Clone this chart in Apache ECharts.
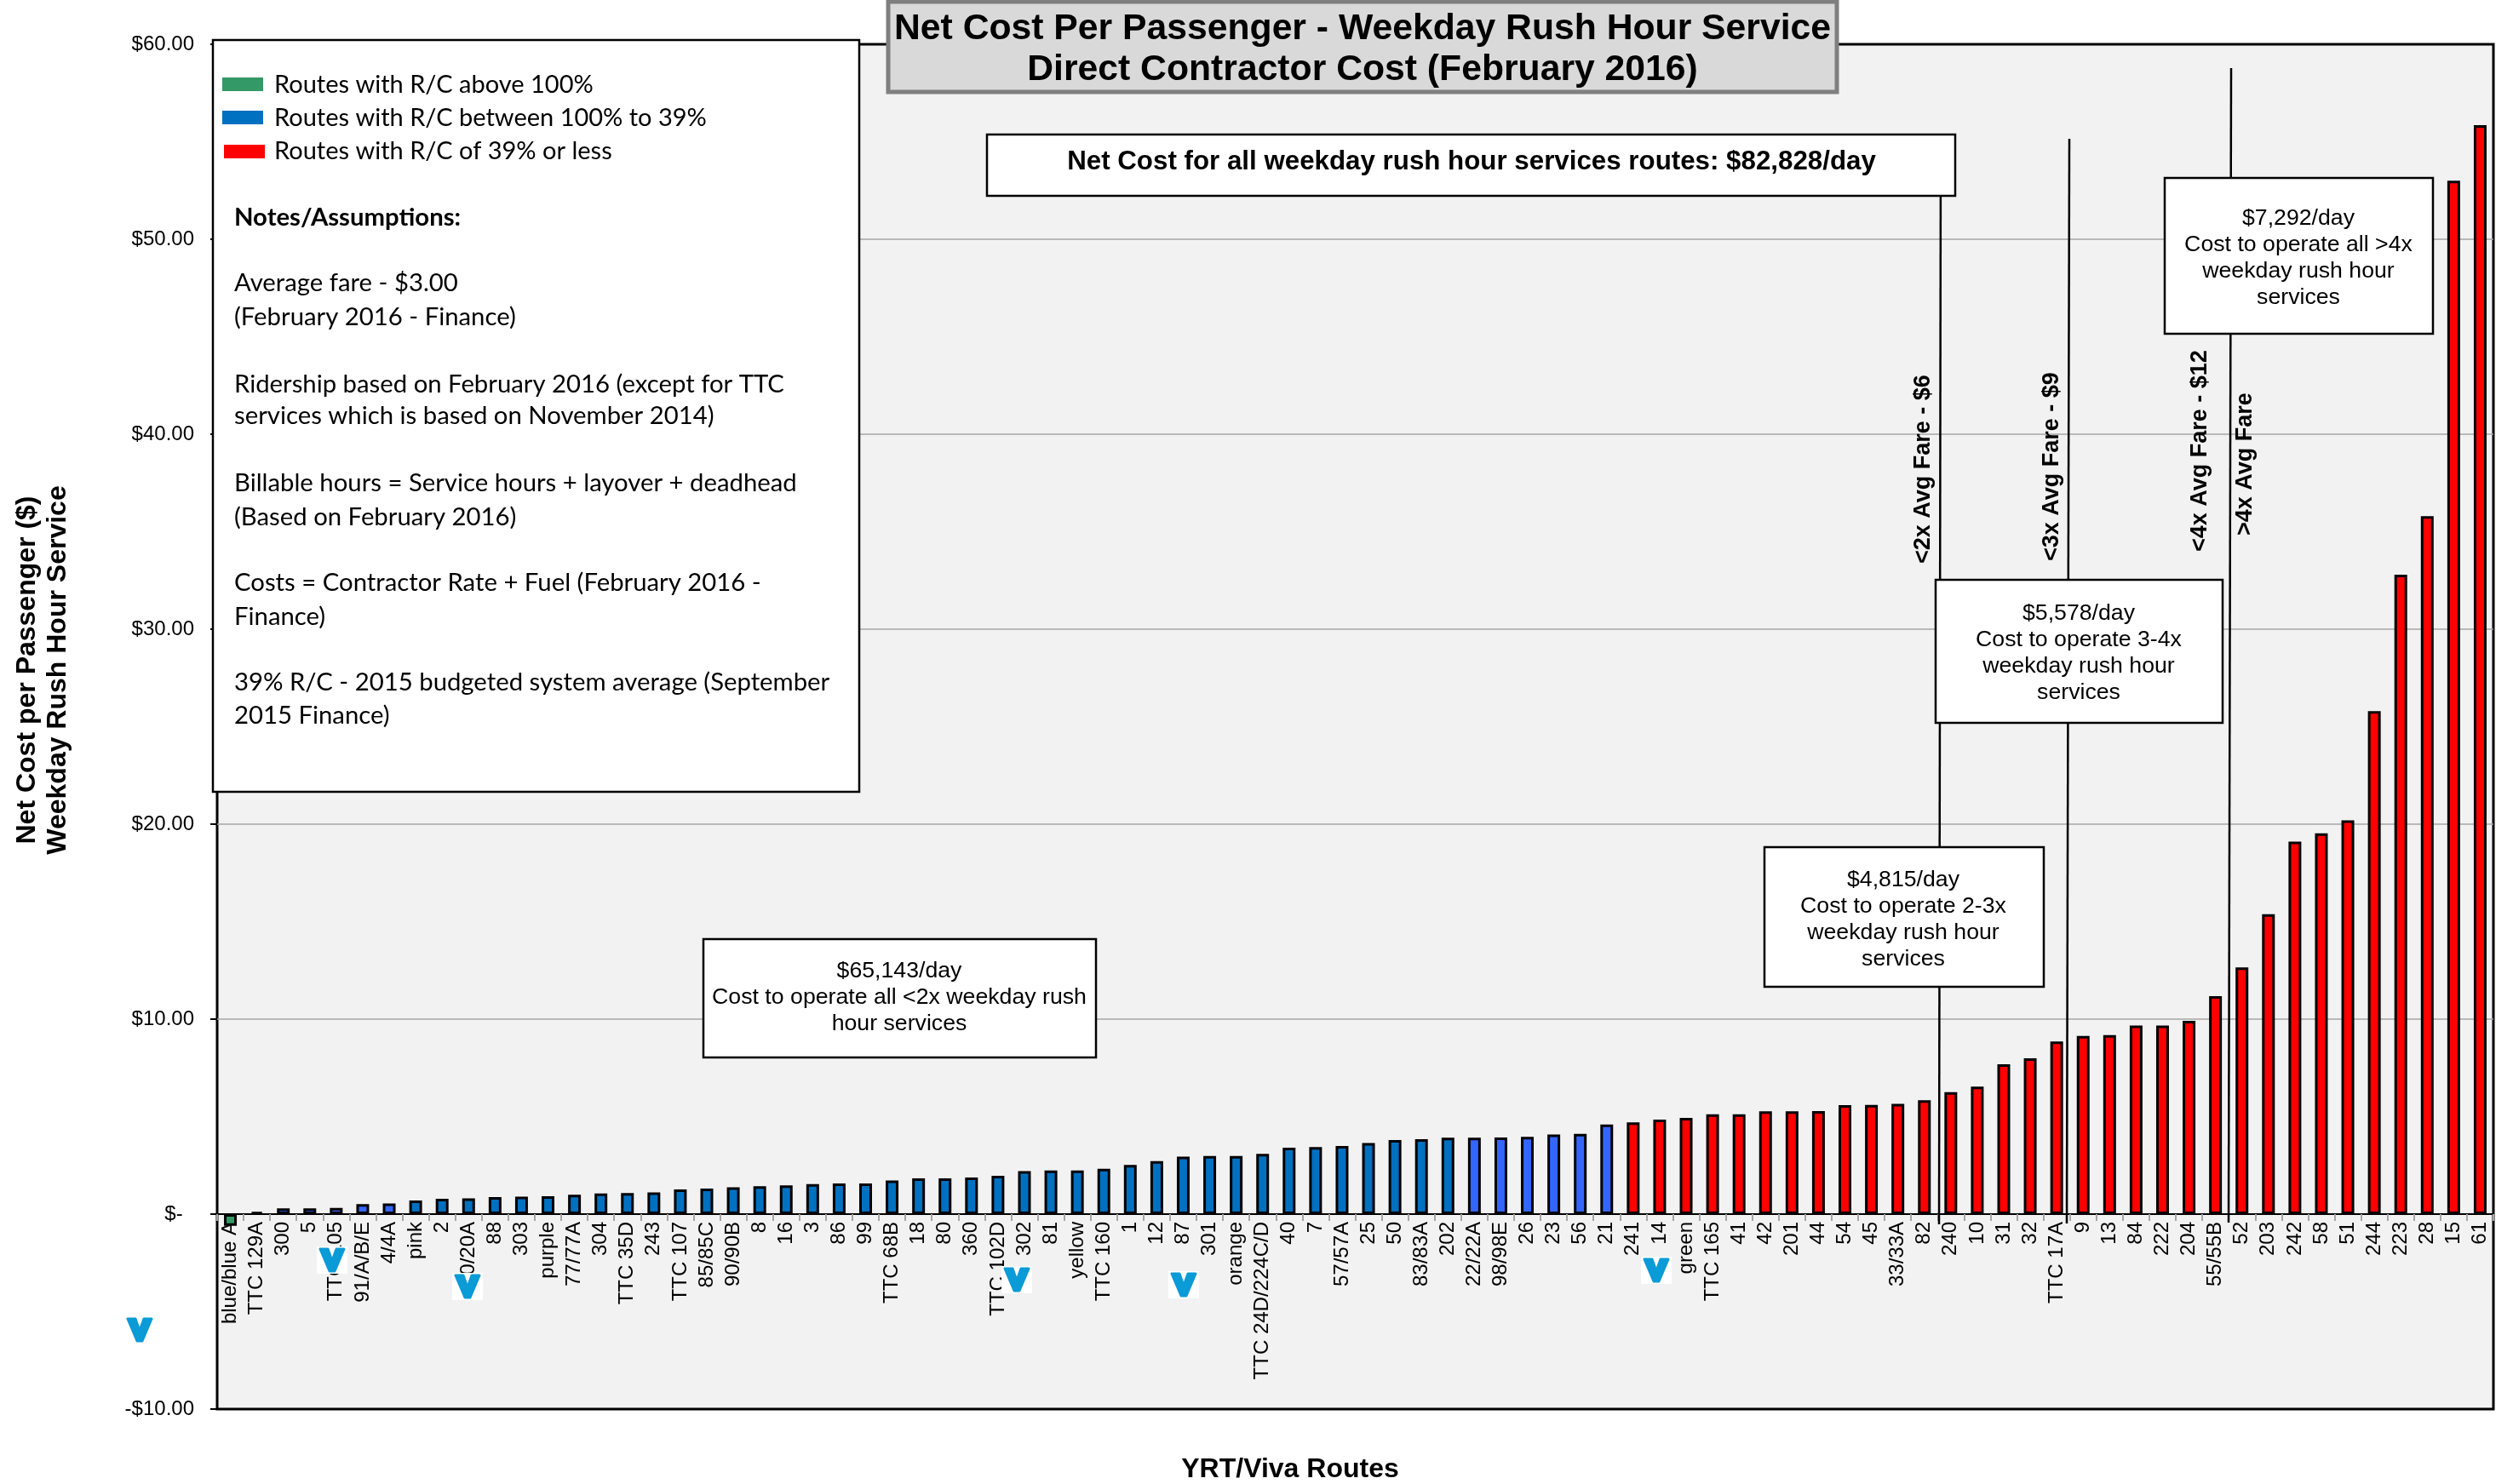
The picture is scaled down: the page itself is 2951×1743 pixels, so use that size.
<!DOCTYPE html>
<html>
<head>
<meta charset="utf-8">
<style>html,body{margin:0;padding:0;background:#fff}#c{width:2951px;height:1743px}</style>
<script src="https://cdn.jsdelivr.net/npm/echarts@6/dist/echarts.min.js"></script>
</head>
<body>
<div id="c"></div>
<script>
const routes = ["blue/blue A","TTC 129A","300","5","TTC 105","91/A/B/E","4/4A","pink","2","20/20A","88","303","purple","77/77A","304","TTC 35D","243","TTC 107","85/85C","90/90B","8","16","3","86","99","TTC 68B","18","80","360","TTC 102D","302","81","yellow","TTC 160","1","12","87","301","orange","TTC 24D/224C/D","40","7","57/57A","25","50","83/83A","202","22/22A","98/98E","26","23","56","21","241","14","green","TTC 165","41","42","201","44","54","45","33/33A","82","240","10","31","32","TTC 17A","9","13","84","222","204","55/55B","52","203","242","58","51","244","223","28","15","61"];
const netCost = [-0.6,0.12,0.29,0.29,0.32,0.51,0.55,0.70,0.79,0.81,0.87,0.89,0.92,0.99,1.06,1.08,1.11,1.27,1.31,1.38,1.43,1.47,1.54,1.57,1.57,1.73,1.83,1.83,1.88,1.97,2.21,2.24,2.24,2.33,2.52,2.72,2.95,2.98,2.98,3.09,3.41,3.44,3.49,3.65,3.80,3.84,3.92,3.92,3.93,3.96,4.08,4.12,4.60,4.70,4.85,4.93,5.12,5.12,5.27,5.27,5.28,5.59,5.60,5.65,5.84,6.26,6.54,7.69,7.99,8.85,9.14,9.18,9.67,9.67,9.91,11.18,12.65,15.38,19.1,19.53,20.2,25.8,32.8,35.8,53.0,55.85];
const tier = ["g","b","l","l","l","l","l","b","b","b","b","b","b","b","b","b","b","b","b","b","b","b","b","b","b","b","b","b","b","b","b","b","b","b","b","b","b","b","b","b","b","b","b","b","b","b","b","l","l","l","l","l","l","r","r","r","r","r","r","r","r","r","r","r","r","r","r","r","r","r","r","r","r","r","r","r","r","r","r","r","r","r","r","r","r","r"];
const tierColors = {g:"#339966",b:"#0070c0",l:"#3366ff",r:"#ff0000"};
const yTicks = {min:-10,max:60,step:10};
const titleLines = ["Net Cost Per Passenger - Weekday Rush Hour Service","Direct Contractor Cost (February 2016)"];
const totalNote = "Net Cost for all weekday rush hour services routes: $82,828/day";
const legendItems = ["Routes with R/C above 100%","Routes with R/C between 100% to 39%","Routes with R/C of 39% or less"];
const notesHead = "Notes/Assumptions:";
const notes = ["Average fare - $3.00","(February 2016 - Finance)","Ridership based on February 2016 (except for TTC","services which is based on November 2014)","Billable hours = Service hours + layover + deadhead","(Based on February 2016)","Costs = Contractor Rate + Fuel (February 2016 -","Finance)","39% R/C - 2015 budgeted system average (September","2015 Finance)"];
const callouts = [
 ["$65,143/day","Cost to operate all <2x weekday rush","hour services"],
 ["$4,815/day","Cost to operate 2-3x","weekday rush hour","services"],
 ["$5,578/day","Cost to operate 3-4x","weekday rush hour","services"],
 ["$7,292/day","Cost to operate all >4x","weekday rush hour","services"]
];
const fareLabels = ["<2x Avg Fare - $6","<3x Avg Fare - $9","<4x Avg Fare - $12",">4x Avg Fare"];

const SANS = '"Liberation Sans",Arial,sans-serif';
const LEG = 'Lato,"Open Sans",sans-serif';
const g = [];
function box(x0,y0,x1,y1,fill,stroke,lw,z){
  g.push({type:'rect',z:z||10,shape:{x:x0,y:y0,width:x1-x0,height:y1-y0},style:{fill:fill,stroke:stroke,lineWidth:lw}});
}
function txt(x,y,text,font,align,rot,z){
  g.push({type:'text',z:z||11,x:x,y:y,rotation:rot||0,style:{x:0,y:0,text:text,font:font,fill:'#000',align:align||'center',verticalAlign:'middle'}});
}
function line(x0,y0,x1,y1,lw,z){
  g.push({type:'line',z:z||5,shape:{x1:x0,y1:y0,x2:x1,y2:y1},style:{stroke:'#000',lineWidth:lw}});
}
line(2279,158,2277,1438,2.5);
line(2430,163,2427,1437,2.5);
line(2620,80,2617,1436,2.5);
box(1043,2,2157,108,'#d9d9d9','#7f7f7f',5);
titleLines.forEach((t,i)=>txt(1600,[34,82][i],t,'bold 42.7px '+SANS));
box(1159,158,2296,230,'#fff','#000',2.5);
txt(1728,190,totalNote,'bold 31.3px '+SANS);
box(250,47,1009,930,'#fff','#000',2.5);
[['g',261,98],['b',261,137],['r',263,177]].forEach((s,i)=>{
  box(s[1],s[2]-8+1,s[1]+48,s[2]+9,tierColors[s[0]],'none',0,11);
  txt(322,[100,139,178][i],legendItems[i],'29px '+LEG,'left');
});
txt(275,256,notesHead,'bold 29.3px '+LEG,'left');
[333,373,452,489,568,608,685,725,802,841].forEach((y,i)=>txt(275,y,notes[i],'29.3px '+LEG,'left'));
const cb=[[826,1103,1287,1242,1056,1141],[2072,995,2400,1159,2235,1034],[2273,681,2610,849,2441,721],[2542,209,2857,392,2699,257]];
callouts.forEach((c,i)=>{
  const b=cb[i];
  box(b[0],b[1],b[2],b[3],'#fff','#000',2.5);
  c.forEach((t,j)=>txt(b[4],b[5]+j*31,t,'26.7px '+SANS));
});
[[2259,662],[2410,659],[2584,648],[2637,629]].forEach((p,i)=>{
  txt(p[0],p[1],fareLabels[i],'bold 27px '+SANS,'left',Math.PI/2,12);
});
txt(1515,1726,'YRT/Viva Routes','bold 32px '+SANS);
txt(32,787,'Net Cost per Passenger ($)','bold 32px '+SANS,'center',Math.PI/2);
txt(68,787,'Weekday Rush Hour Service','bold 32px '+SANS,'center',Math.PI/2);
[[164,1562],[390,1480],[549,1511],[1194,1503],[1390,1509],[1945,1492]].forEach(p=>{
  g.push({type:'rect',z:20,shape:{x:p[0]-18,y:p[1]-16,width:36,height:32},style:{fill:'#fff'}});
  g.push({type:'polygon',z:21,shape:{points:[[p[0]-14,p[1]-13],[p[0]-5,p[1]-13],[p[0],p[1]+1],[p[0]+5,p[1]-13],[p[0]+14,p[1]-13],[p[0]+3,p[1]+13],[p[0]-3,p[1]+13]]},style:{fill:'#0b9bd7',stroke:'#0b9bd7',lineWidth:3,lineJoin:'round'}});
});

const gridH = 1603;
const chart = echarts.init(document.getElementById('c'),null,{renderer:'canvas'});
chart.setOption({
  animation:false,
  backgroundColor:'#fff',
  grid:{left:255,top:52,width:2673,height:gridH,outerBoundsMode:'none',show:true,backgroundColor:'#f2f2f2',borderColor:'#000',borderWidth:3},
  xAxis:{type:'category',data:routes,boundaryGap:true,position:'bottom',
    offset:-gridH*(-yTicks.min)/(yTicks.max-yTicks.min),
    axisLine:{show:true,onZero:false,lineStyle:{color:'#000',width:2}},
    axisTick:{show:true,alignWithLabel:false,length:8,lineStyle:{color:'#a6a6a6',width:2}},
    axisLabel:{interval:0,rotate:90,margin:9,color:'#000',fontFamily:'Liberation Sans',fontSize:24,padding:[4,0,0,0]},
    splitLine:{show:false}},
  yAxis:{type:'value',min:yTicks.min,max:yTicks.max,interval:yTicks.step,
    axisLine:{show:false},
    axisTick:{show:true,length:8,lineStyle:{color:'#000',width:2}},
    axisLabel:{margin:27,color:'#000',fontFamily:'Liberation Sans',fontSize:24,
      formatter:v=>v===0?'$-\u00A0\u00A0':(v<0?'-$':'$')+Math.abs(v).toFixed(2)},
    splitLine:{show:true,showMinLine:false,showMaxLine:false,lineStyle:{color:'#a6a6a6',width:1.5}}},
  series:[{type:'bar',barWidth:15,z:3,
    data:netCost.map((v,i)=>({value:v,itemStyle:{color:tierColors[tier[i]],borderColor:'#000',borderWidth:3}}))}],
  graphic:g
});
</script>
</body>
</html>
